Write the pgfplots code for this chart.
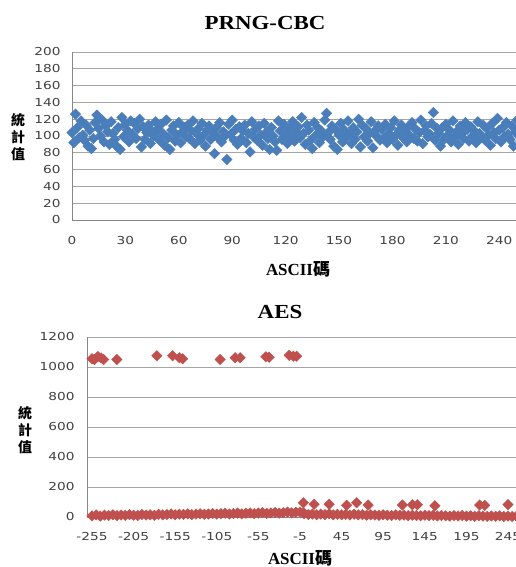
\documentclass[border=0pt]{standalone}
\usepackage{fontspec}
\setmainfont{Liberation Serif}
\newfontfamily\cjk{Noto Sans CJK TC}
\newfontfamily\tickfont[FakeStretch=1.25]{DejaVu Sans}
\newfontfamily\titlefont[FakeStretch=1.15]{Liberation Serif}
\usepackage{pgfplots}
\pgfplotsset{compat=1.18}

\definecolor{prngblue}{HTML}{4A7EBB}
\definecolor{aesred}{HTML}{C0504D}
\definecolor{gridgray}{HTML}{A6A6A6}
\definecolor{axisgray}{HTML}{868686}

\pgfplotsset{
  excelstyle/.style={
    scale only axis,
    anchor=south west,
    axis x line*=bottom,
    axis y line*=left,
    axis line style={axisgray, line width=0.8bp},
    ymajorgrids,
    grid style={gridgray, line width=0.7bp},
    major tick length=0pt,
    tick label style={font=\tickfont\fontsize{11}{13}\selectfont, text=black!75},
    /pgf/number format/assume math mode=true,
    /pgf/number format/1000 sep={},
    clip=false,
  },
}

\begin{document}
\begin{tikzpicture}
\path[use as bounding box] (0,0) rectangle (516bp,-567bp);

% ---------- PRNG-CBC ----------
\node[font=\titlefont\bfseries\fontsize{20}{24}\selectfont] at (265bp,-23bp) {PRNG-CBC};
\node[font=\cjk\bfseries\fontsize{14}{17}\selectfont, align=center] at (18bp,-137bp) {統\\計\\值};
\node[font=\bfseries\fontsize{17}{20}\selectfont] at (298bp,-269bp) {ASCII{\cjk 碼}};

\begin{axis}[excelstyle,
  at={(72bp,-220bp)},
  width=444bp, height=168bp,
  xmin=0, xmax=249.4,
  ymin=0, ymax=200,
  xtick={0,30,...,240},
  ytick={0,20,...,200},
  yticklabel style={xshift=-8bp},
  xticklabel style={yshift=-13bp},
]
\addplot[only marks, mark=square*, mark size=3.7bp, mark options={rotate=45, prngblue, draw=prngblue}]
  table[x expr=\coordindex, y index=0] {
y
104
92
126
110
98
118
101
95
113
88
107
85
97
116
125
109
100
119
93
112
105
90
117
103
96
88
110
84
122
99
114
107
93
118
102
115
97
109
120
87
111
96
104
113
91
106
100
117
108
95
114
103
89
119
98
84
107
112
94
101
116
92
105
110
99
113
97
106
118
91
103
109
95
115
101
88
107
112
96
104
79
110
98
116
93
105
100
72
114
102
119
95
108
90
111
97
106
113
92
103
81
117
99
108
95
112
101
89
115
104
97
84
110
100
93
83
118
106
96
114
102
91
109
99
117
94
105
111
98
122
103
90
113
107
95
85
116
101
110
92
106
99
119
127
104
96
112
88
108
84
101
115
93
107
98
118
102
91
110
96
105
120
87
113
99
109
94
103
117
86
106
100
112
95
108
97
114
92
103
110
96
118
101
89
107
113
98
105
93
111
100
116
97
108
94
104
119
91
106
112
99
102
115
128
95
109
103
88
110
96
114
101
107
93
118
99
105
90
112
103
97
116
108
94
111
100
106
92
117
103
98
113
95
109
101
89
115
104
97
121
107
93
110
99
116
102
96
112
88
105
119
100
94
108
97
103
};
\end{axis}

% ---------- AES ----------
\node[font=\titlefont\bfseries\fontsize{20}{24}\selectfont] at (280bp,-312bp) {AES};
\node[font=\cjk\bfseries\fontsize{14}{17}\selectfont, align=center] at (25bp,-430bp) {統\\計\\值};
\node[font=\bfseries\fontsize{17}{20}\selectfont] at (300bp,-558bp) {ASCII{\cjk 碼}};

\begin{axis}[excelstyle,
  at={(87bp,-517bp)},
  width=429bp, height=180bp,
  xmin=-261, xmax=254.6,
  ymin=0, ymax=1200,
  xtick={-255,-205,...,245},
  ytick={0,200,...,1200},
  yticklabel style={xshift=-9bp},
  xticklabel style={yshift=-12bp},
]
\addplot[only marks, mark=square*, mark size=3.7bp, mark options={rotate=45, aesred, draw=aesred}]
  coordinates {
(-255,8) (-250,14) (-245,6) (-240,12) (-235,10) (-230,15) (-225,9) (-220,13)
(-215,11) (-210,16) (-205,12) (-200,10) (-195,17) (-190,13) (-185,15) (-180,11)
(-175,18) (-170,14) (-165,16) (-160,20) (-155,15) (-150,19) (-145,17) (-140,21)
(-135,16) (-130,19) (-125,22) (-120,18) (-115,20) (-110,24) (-105,19) (-100,22)
(-95,25) (-90,20) (-85,23) (-80,26) (-75,21) (-70,25) (-65,27) (-60,23)
(-55,26) (-50,29) (-45,24) (-40,27) (-35,30) (-30,26) (-25,29) (-20,32)
(-15,28) (-10,31) (-5,33) (-1,30)
(0,22) (5,17) (10,20) (15,15) (20,19) (25,16) (30,21) (35,14)
(40,18) (45,15) (50,17) (55,13) (60,18) (65,14) (70,16) (75,12)
(80,15) (85,13) (90,11) (95,15) (100,12) (105,10) (110,14) (115,11)
(120,13) (125,9) (130,12) (135,10) (140,8) (145,12) (150,9) (155,11)
(160,7) (165,10) (170,8) (175,6) (180,9) (185,7) (190,10) (195,6)
(200,8) (205,5) (210,9) (215,6) (220,4) (225,7) (230,5) (235,8)
(240,4) (245,6) (250,3) (255,5)
(-255,1055) (-252,1050) (-248,1070) (-244,1060) (-241,1050) (-225,1050)
(-177,1075) (-158,1075) (-150,1062) (-146,1055) (-101,1050) (-83,1062)
(-77,1062) (-46,1068) (-42,1065) (-18,1078) (-13,1072) (-9,1072)
(-1,95) (12,85) (30,85) (51,78) (63,95) (77,80) (118,80) (130,82)
(136,82) (157,75) (211,80) (217,78) (245,82)
};
\end{axis}
\end{tikzpicture}
\end{document}
